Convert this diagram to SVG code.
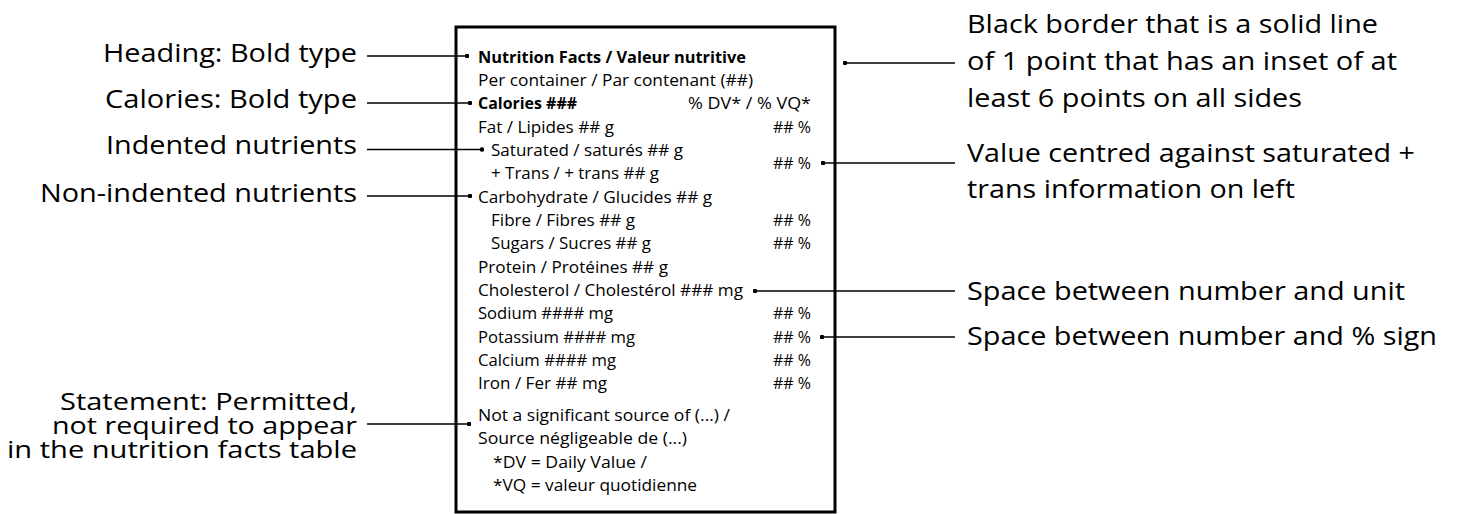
<svg xmlns="http://www.w3.org/2000/svg" width="1457" height="514" viewBox="0 0 1457 514">
<style>
.lbl{font-family:"Open Sans","Liberation Sans",sans-serif;font-size:25px;fill:#000}
.st{font-size:23px}
.t{font-family:"Open Sans","Liberation Sans",sans-serif;font-size:15.5px;fill:#000}
.b{font-weight:bold}
.e{text-anchor:end}
.conn line{stroke:#000;stroke-width:1.3;marker-end:url(#dot)}
.box{fill:#fff;stroke:#000;stroke-width:3}
</style>
<defs>
<marker id="dot" viewBox="0 0 4 4" refX="2" refY="2" markerWidth="4.5" markerHeight="4.5" markerUnits="userSpaceOnUse"><circle cx="2" cy="2" r="2" fill="#000"/></marker>
</defs>
<rect width="1457" height="514" fill="#fff"/>

<g id="nutrition-table">
<rect class="box" x="456" y="27" width="379" height="485"/>
<text class="t b" x="478" y="62.5" textLength="268" lengthAdjust="spacingAndGlyphs">Nutrition Facts / Valeur nutritive</text>
<text class="t" x="478" y="86" textLength="275" lengthAdjust="spacingAndGlyphs">Per container / Par contenant (##)</text>
<text class="t b" x="478" y="109" textLength="99" lengthAdjust="spacingAndGlyphs">Calories ###</text>
<text class="t e" x="811" y="109" textLength="123" lengthAdjust="spacingAndGlyphs">% DV* / % VQ*</text>
<text class="t" x="478" y="132.5" textLength="136" lengthAdjust="spacingAndGlyphs">Fat / Lipides ## g</text>
<text class="t e" x="811" y="132.5" textLength="38" lengthAdjust="spacingAndGlyphs">## %</text>
<text class="t" x="491" y="156" textLength="192" lengthAdjust="spacingAndGlyphs">Saturated / saturés ## g</text>
<text class="t" x="491" y="179" textLength="168" lengthAdjust="spacingAndGlyphs">+ Trans / + trans ## g</text>
<text class="t e" x="811" y="169" textLength="38" lengthAdjust="spacingAndGlyphs">## %</text>
<text class="t" x="478" y="202.5" textLength="234" lengthAdjust="spacingAndGlyphs">Carbohydrate / Glucides ## g</text>
<text class="t" x="491" y="226" textLength="144" lengthAdjust="spacingAndGlyphs">Fibre / Fibres ## g</text>
<text class="t e" x="811" y="226" textLength="38" lengthAdjust="spacingAndGlyphs">## %</text>
<text class="t" x="491" y="249" textLength="160" lengthAdjust="spacingAndGlyphs">Sugars / Sucres ## g</text>
<text class="t e" x="811" y="249" textLength="38" lengthAdjust="spacingAndGlyphs">## %</text>
<text class="t" x="478" y="273" textLength="190" lengthAdjust="spacingAndGlyphs">Protein / Protéines ## g</text>
<text class="t" x="478" y="296" textLength="265" lengthAdjust="spacingAndGlyphs">Cholesterol / Cholestérol ### mg</text>
<text class="t" x="478" y="319" textLength="135" lengthAdjust="spacingAndGlyphs">Sodium #### mg</text>
<text class="t e" x="811" y="319" textLength="38" lengthAdjust="spacingAndGlyphs">## %</text>
<text class="t" x="478" y="343" textLength="157" lengthAdjust="spacingAndGlyphs">Potassium #### mg</text>
<text class="t e" x="811" y="343" textLength="38" lengthAdjust="spacingAndGlyphs">## %</text>
<text class="t" x="478" y="366" textLength="138" lengthAdjust="spacingAndGlyphs">Calcium #### mg</text>
<text class="t e" x="811" y="366" textLength="38" lengthAdjust="spacingAndGlyphs">## %</text>
<text class="t" x="478" y="389" textLength="129" lengthAdjust="spacingAndGlyphs">Iron / Fer ## mg</text>
<text class="t e" x="811" y="389" textLength="38" lengthAdjust="spacingAndGlyphs">## %</text>
<text class="t" x="478" y="421" textLength="252" lengthAdjust="spacingAndGlyphs">Not a significant source of (...) /</text>
<text class="t" x="478" y="444" textLength="209" lengthAdjust="spacingAndGlyphs">Source négligeable de (...)</text>
<text class="t" x="493" y="468" textLength="154" lengthAdjust="spacingAndGlyphs">*DV = Daily Value /</text>
<text class="t" x="493" y="491" textLength="204" lengthAdjust="spacingAndGlyphs">*VQ = valeur quotidienne</text>
</g>

<g id="label-heading"><text class="lbl e" x="357" y="62" textLength="254" lengthAdjust="spacingAndGlyphs">Heading: Bold type</text></g>
<g id="label-calories"><text class="lbl e" x="357" y="108" textLength="252" lengthAdjust="spacingAndGlyphs">Calories: Bold type</text></g>
<g id="label-indented"><text class="lbl e" x="357" y="154" textLength="251" lengthAdjust="spacingAndGlyphs">Indented nutrients</text></g>
<g id="label-nonindented"><text class="lbl e" x="357" y="202" textLength="317" lengthAdjust="spacingAndGlyphs">Non-indented nutrients</text></g>
<g id="label-statement">
<text class="lbl st e"><tspan x="357" y="410" textLength="297" lengthAdjust="spacingAndGlyphs">Statement: Permitted,</tspan><tspan x="357" y="434" textLength="305" lengthAdjust="spacingAndGlyphs">not required to appear</tspan><tspan x="357" y="458" textLength="350" lengthAdjust="spacingAndGlyphs">in the nutrition facts table</tspan></text>
</g>
<g id="label-border">
<text class="lbl" x="967" y="33" textLength="411" lengthAdjust="spacingAndGlyphs">Black border that is a solid line</text>
<text class="lbl" x="967" y="70" textLength="430" lengthAdjust="spacingAndGlyphs">of 1 point that has an inset of at</text>
<text class="lbl" x="967" y="107" textLength="335" lengthAdjust="spacingAndGlyphs">least 6 points on all sides</text>
</g>
<g id="label-centred">
<text class="lbl" x="967" y="162" textLength="448" lengthAdjust="spacingAndGlyphs">Value centred against saturated +</text>
<text class="lbl" x="967" y="198" textLength="328" lengthAdjust="spacingAndGlyphs">trans information on left</text>
</g>
<g id="label-unit"><text class="lbl" x="967" y="300" textLength="438" lengthAdjust="spacingAndGlyphs">Space between number and unit</text></g>
<g id="label-percent"><text class="lbl" x="967" y="345" textLength="470" lengthAdjust="spacingAndGlyphs">Space between number and % sign</text></g>

<g id="connectors" class="conn">
<line x1="367" y1="56" x2="467" y2="56"/>
<line x1="367" y1="103" x2="470" y2="103"/>
<line x1="367" y1="149.5" x2="482" y2="149.5"/>
<line x1="367" y1="196" x2="470" y2="196"/>
<line x1="367" y1="424" x2="469" y2="424"/>
<line x1="955" y1="63" x2="845" y2="63"/>
<line x1="955" y1="163" x2="823" y2="163"/>
<line x1="955" y1="291" x2="755" y2="291"/>
<line x1="955" y1="337" x2="822" y2="337"/>
</g>
</svg>
